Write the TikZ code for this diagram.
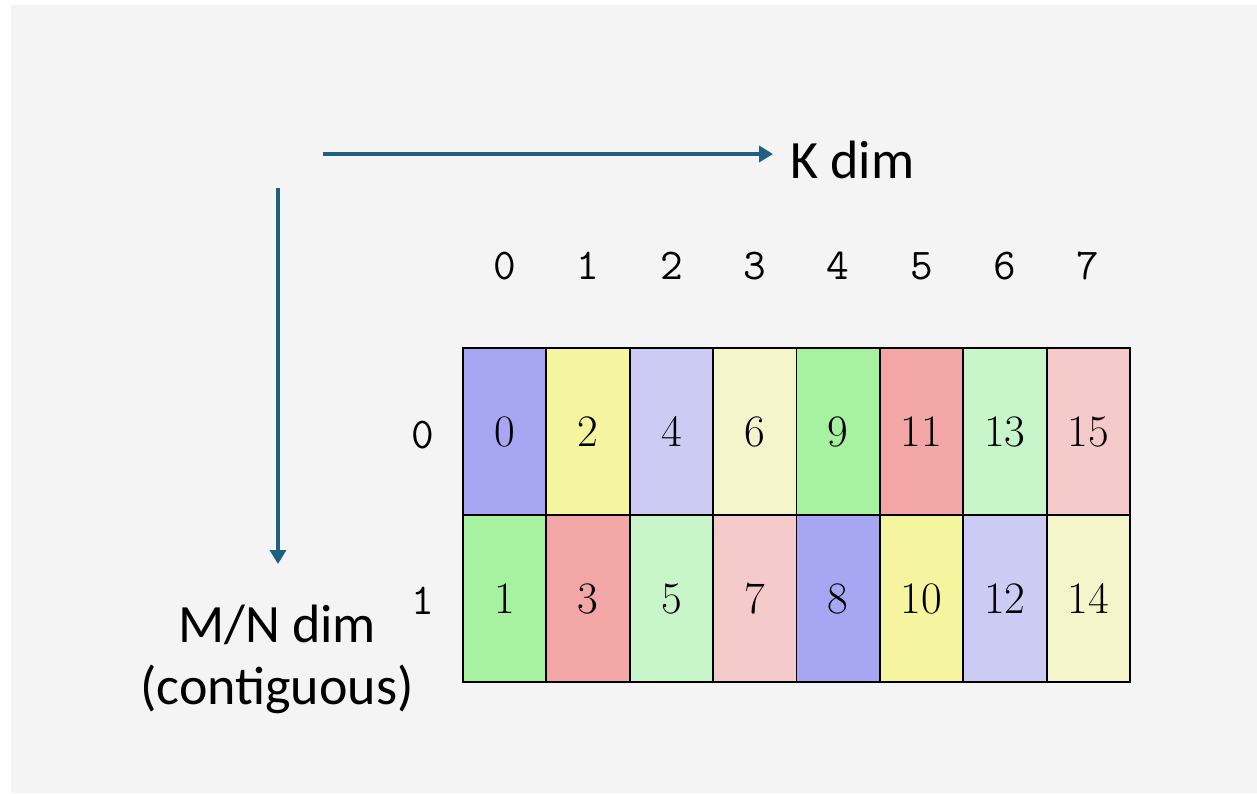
\documentclass[tikz,border=0pt]{standalone}
\usepackage{fontspec}
\usetikzlibrary{arrows.meta}
\newfontfamily\lblfont{Carlito}
\definecolor{bgc}{HTML}{F4F4F4}
\definecolor{axisc}{HTML}{1F5F7F}
\definecolor{cblue}{HTML}{A6A6F2}
\definecolor{cyel}{HTML}{F5F5A0}
\definecolor{clav}{HTML}{CBCBF4}
\definecolor{clyel}{HTML}{F5F5CC}
\definecolor{cgreen}{HTML}{A6F2A0}
\definecolor{cred}{HTML}{F2A6A6}
\definecolor{clgreen}{HTML}{C8F5CA}
\definecolor{cpink}{HTML}{F5CACA}
\begin{document}
\begin{tikzpicture}[x=1pt,y=-1pt,
  cell/.style={draw=black, line width=1.8pt, minimum width=83.375pt, minimum height=167pt,
    inner sep=0pt, font=\fontsize{45}{45}\selectfont},
  hdr/.style={inner sep=0pt, font=\fontsize{44}{44}\selectfont\ttfamily},
  lbl/.style={inner sep=0pt, font=\fontsize{54}{62}\selectfont\lblfont},
  axis/.style={draw=axisc, line width=3.5pt, -{Triangle[length=14pt,width=16pt]}}]
\useasboundingbox (0,0) rectangle (1257,793);
\fill[white] (0,0) rectangle (1257,793);
\fill[bgc] (11,5) rectangle (1257,793);
% row 0
\foreach \v/\c [count=\i from 0] in {0/cblue,2/cyel,4/clav,6/clyel,9/cgreen,11/cred,13/clgreen,15/cpink}{
  \node[cell, fill=\c] (a\i) at ({463+83.375*(\i+0.5)},431.5) {\v};
}
% row 1
\foreach \v/\c [count=\i from 0] in {1/cgreen,3/cred,5/clgreen,7/cpink,8/cblue,10/cyel,12/clav,14/clyel}{
  \node[cell, fill=\c] (b\i) at ({463+83.375*(\i+0.5)},598.5) {\v};
}
% column headers
\foreach \i in {0,...,7}{
  \node[hdr] (h\i) at ({463+83.375*(\i+0.5)},266) {\i};
}
% row labels
\node[hdr] (r0) at (423,435) {0};
\node[hdr] (r1) at (423,601) {1};
% axes
\coordinate (ks) at (323,154);
\coordinate (ke) at (773,154);
\draw[axis] (ks) -- (ke);
\node[lbl, anchor=west] (kdim) at (790,160) {K dim};
\coordinate (vs) at (278,188);
\coordinate (ve) at (278,564);
\draw[axis] (vs) -- (ve);
\node[lbl, align=center] (mn) at (277,659) {M/N dim\\(contiguous)};
\end{tikzpicture}
\end{document}
